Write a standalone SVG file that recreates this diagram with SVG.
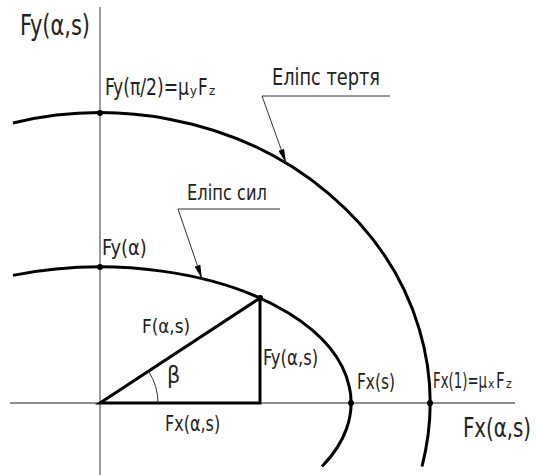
<svg xmlns="http://www.w3.org/2000/svg" width="536" height="475" viewBox="0 0 536 475">
<style>
.axis{stroke:#666;stroke-width:1.3;fill:none}
.curve{stroke:#000;stroke-width:3;fill:none}
.thin{stroke:#333;stroke-width:1;fill:none}
.dot{fill:#000}
text{font-family:"Liberation Sans Narrow","DejaVu Sans Condensed","Liberation Sans",sans-serif;fill:#222}
</style>
<defs>
<marker id="arr" viewBox="0 0 14 6" refX="14" refY="3" markerWidth="14" markerHeight="6" markerUnits="userSpaceOnUse" orient="auto">
<path d="M0,0 L14,3 L0,6 Z" fill="#000"/>
</marker>
</defs>
<rect width="536" height="475" fill="#fff"/>
<g id="axes">
<line class="axis" x1="100" y1="7" x2="100" y2="475"/>
<line class="axis" x1="10" y1="403" x2="515" y2="403"/>
</g>
<g id="friction-ellipse">
<path class="curve" d="M13,123 A330,290 0 0 1 422,466.5"/>
</g>
<g id="force-ellipse">
<path class="curve" d="M13,275.4 A251,136 0 0 1 322,466.5"/>
</g>
<g id="triangle">
<path class="curve" d="M100,403 L260,298 L260,403 Z" stroke-linejoin="miter"/>
<path class="thin" d="M158,403 A58,58 0 0 0 148.5,371.2"/>
</g>
<g id="connectors">
<path class="thin" d="M390,96 H262 L286,163" marker-end="url(#arr)"/>
<path class="thin" d="M280,209 H178 L202,279" marker-end="url(#arr)"/>
</g>
<g id="points">
<circle class="dot" cx="100" cy="113" r="3"/>
<circle class="dot" cx="100" cy="267" r="3"/>
<circle class="dot" cx="260" cy="298" r="3"/>
<circle class="dot" cx="351" cy="403" r="3"/>
<circle class="dot" cx="430" cy="403" r="3"/>
</g>
<g id="labels">
<text transform="translate(20,35) scale(0.8,1)" font-size="28" textLength="87.5" lengthAdjust="spacingAndGlyphs">Fy(α,s)</text>
<text transform="translate(105,95) scale(0.8,1)" font-size="23" textLength="105" lengthAdjust="spacingAndGlyphs">Fy(π/2)=μ</text>
<text x="190" y="95" font-size="13">y</text>
<text transform="translate(198,95) scale(0.8,1)" font-size="23">F</text>
<text x="209" y="95" font-size="13">z</text>
<text transform="translate(272,85) scale(0.8,1)" font-size="23" textLength="135" lengthAdjust="spacingAndGlyphs">Еліпс тертя</text>
<text transform="translate(187,200) scale(0.8,1)" font-size="21" textLength="100" lengthAdjust="spacingAndGlyphs">Еліпс сил</text>
<text transform="translate(102,255) scale(0.8,1)" font-size="21" textLength="56" lengthAdjust="spacingAndGlyphs">Fy(α)</text>
<text transform="translate(142,333) scale(0.8,1)" font-size="20" textLength="60" lengthAdjust="spacingAndGlyphs">F(α,s)</text>
<text x="167" y="383" font-size="23">β</text>
<text transform="translate(263,365) scale(0.8,1)" font-size="22" textLength="69" lengthAdjust="spacingAndGlyphs">Fy(α,s)</text>
<text transform="translate(357,389) scale(0.8,1)" font-size="22" textLength="47.5" lengthAdjust="spacingAndGlyphs">Fx(s)</text>
<text transform="translate(433,388) scale(0.72,1)" font-size="21" textLength="75" lengthAdjust="spacingAndGlyphs">Fx(1)=μ</text>
<text x="488" y="388" font-size="12">x</text>
<text transform="translate(496,388) scale(0.8,1)" font-size="21">F</text>
<text x="506" y="388" font-size="12">z</text>
<text transform="translate(165,431) scale(0.8,1)" font-size="21" textLength="69" lengthAdjust="spacingAndGlyphs">Fx(α,s)</text>
<text transform="translate(463,437) scale(0.8,1)" font-size="27" textLength="85" lengthAdjust="spacingAndGlyphs">Fx(α,s)</text>
</g>
</svg>
